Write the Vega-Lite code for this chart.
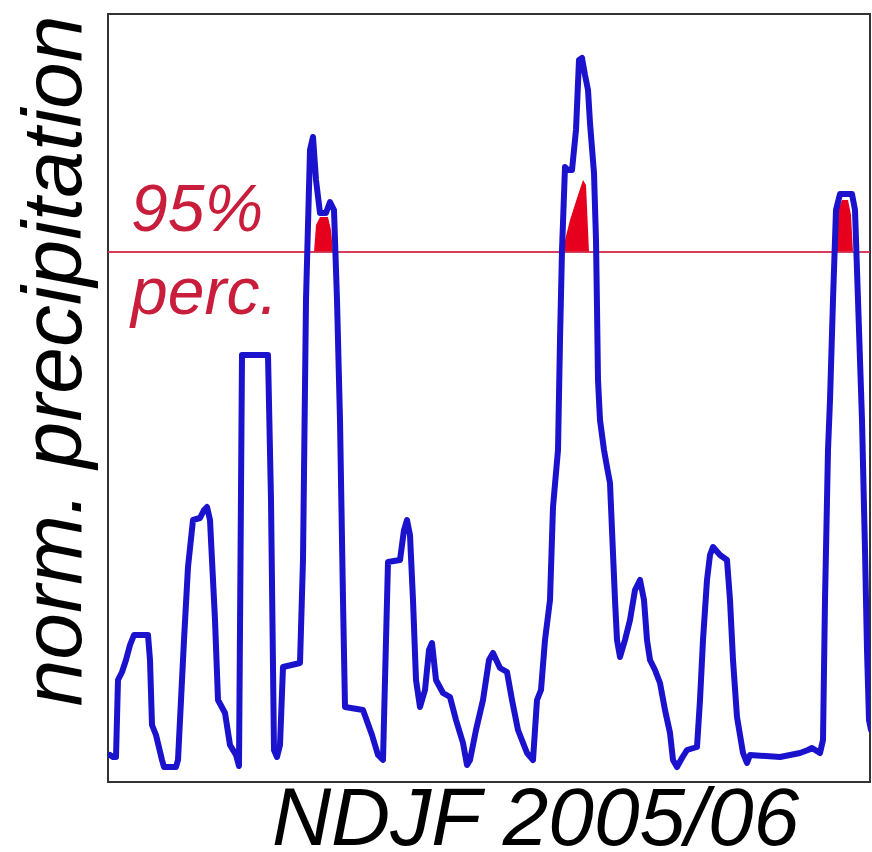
{
  "$schema": "https://vega.github.io/schema/vega-lite/v6.json",
  "width": 762,
  "height": 768,
  "autosize": {"type": "none"},
  "padding": {"left": 108, "top": 14, "right": 2, "bottom": 70},
  "background": "white",
  "config": {
    "view": {"stroke": "#333333", "strokeWidth": 2},
    "axis": {"ticks": false, "labels": false, "grid": false, "domain": false}
  },
  "datasets": {
    "series": [
      {"t": 2, "precip": 27}, {"t": 5, "precip": 25}, {"t": 8, "precip": 25}, {"t": 10, "precip": 102},
      {"t": 14, "precip": 110}, {"t": 18, "precip": 122}, {"t": 22, "precip": 137}, {"t": 26, "precip": 147},
      {"t": 40, "precip": 147}, {"t": 42, "precip": 122}, {"t": 44, "precip": 57}, {"t": 48, "precip": 47},
      {"t": 54, "precip": 22}, {"t": 56, "precip": 15}, {"t": 68, "precip": 15}, {"t": 70, "precip": 22},
      {"t": 76, "precip": 142}, {"t": 80, "precip": 215}, {"t": 85, "precip": 262}, {"t": 92, "precip": 264},
      {"t": 96, "precip": 272}, {"t": 99, "precip": 275}, {"t": 102, "precip": 262}, {"t": 107, "precip": 162},
      {"t": 110, "precip": 82}, {"t": 117, "precip": 69}, {"t": 122, "precip": 37}, {"t": 128, "precip": 27},
      {"t": 131, "precip": 16}, {"t": 134, "precip": 427}, {"t": 160, "precip": 427}, {"t": 163, "precip": 282},
      {"t": 166, "precip": 32}, {"t": 169, "precip": 25}, {"t": 172, "precip": 37}, {"t": 175, "precip": 115},
      {"t": 192, "precip": 119}, {"t": 195, "precip": 222}, {"t": 198, "precip": 482}, {"t": 202, "precip": 632},
      {"t": 205, "precip": 645}, {"t": 208, "precip": 602}, {"t": 212, "precip": 569}, {"t": 218, "precip": 569},
      {"t": 222, "precip": 580}, {"t": 226, "precip": 572}, {"t": 229, "precip": 482}, {"t": 232, "precip": 362},
      {"t": 235, "precip": 182}, {"t": 237, "precip": 75}, {"t": 255, "precip": 72}, {"t": 264, "precip": 47},
      {"t": 270, "precip": 27}, {"t": 275, "precip": 22}, {"t": 278, "precip": 142}, {"t": 280, "precip": 220},
      {"t": 292, "precip": 222}, {"t": 296, "precip": 252}, {"t": 299, "precip": 262}, {"t": 302, "precip": 247},
      {"t": 305, "precip": 182}, {"t": 308, "precip": 102}, {"t": 312, "precip": 75}, {"t": 317, "precip": 92},
      {"t": 321, "precip": 132}, {"t": 324, "precip": 139}, {"t": 328, "precip": 102}, {"t": 335, "precip": 89},
      {"t": 342, "precip": 85}, {"t": 348, "precip": 62}, {"t": 355, "precip": 39}, {"t": 359, "precip": 17},
      {"t": 362, "precip": 22}, {"t": 368, "precip": 52}, {"t": 375, "precip": 82}, {"t": 381, "precip": 122},
      {"t": 385, "precip": 129}, {"t": 392, "precip": 114}, {"t": 399, "precip": 110}, {"t": 404, "precip": 82},
      {"t": 410, "precip": 52}, {"t": 419, "precip": 29}, {"t": 425, "precip": 22}, {"t": 429, "precip": 82},
      {"t": 433, "precip": 92}, {"t": 437, "precip": 142}, {"t": 442, "precip": 182}, {"t": 445, "precip": 275},
      {"t": 450, "precip": 332}, {"t": 452, "precip": 442}, {"t": 454, "precip": 532}, {"t": 457, "precip": 615},
      {"t": 460, "precip": 612}, {"t": 464, "precip": 612}, {"t": 468, "precip": 652}, {"t": 471, "precip": 722},
      {"t": 474, "precip": 724}, {"t": 477, "precip": 707}, {"t": 480, "precip": 692}, {"t": 482, "precip": 659},
      {"t": 486, "precip": 609}, {"t": 488, "precip": 542}, {"t": 489, "precip": 475}, {"t": 490, "precip": 402},
      {"t": 492, "precip": 362}, {"t": 496, "precip": 332}, {"t": 499, "precip": 315}, {"t": 502, "precip": 299},
      {"t": 504, "precip": 252}, {"t": 507, "precip": 182}, {"t": 509, "precip": 142}, {"t": 512, "precip": 125},
      {"t": 517, "precip": 142}, {"t": 522, "precip": 162}, {"t": 527, "precip": 192}, {"t": 532, "precip": 202},
      {"t": 536, "precip": 182}, {"t": 539, "precip": 142}, {"t": 542, "precip": 122}, {"t": 547, "precip": 112},
      {"t": 552, "precip": 99}, {"t": 557, "precip": 72}, {"t": 562, "precip": 49}, {"t": 565, "precip": 22},
      {"t": 569, "precip": 15}, {"t": 574, "precip": 24}, {"t": 579, "precip": 32}, {"t": 589, "precip": 35},
      {"t": 592, "precip": 82}, {"t": 595, "precip": 142}, {"t": 599, "precip": 202}, {"t": 602, "precip": 227},
      {"t": 605, "precip": 235}, {"t": 612, "precip": 227}, {"t": 619, "precip": 222}, {"t": 622, "precip": 182},
      {"t": 625, "precip": 122}, {"t": 629, "precip": 65}, {"t": 635, "precip": 29}, {"t": 639, "precip": 19},
      {"t": 642, "precip": 27}, {"t": 672, "precip": 25}, {"t": 692, "precip": 29}, {"t": 700, "precip": 32},
      {"t": 704, "precip": 34}, {"t": 712, "precip": 29}, {"t": 715, "precip": 42}, {"t": 717, "precip": 182},
      {"t": 720, "precip": 332}, {"t": 722, "precip": 382}, {"t": 725, "precip": 482}, {"t": 728, "precip": 572},
      {"t": 732, "precip": 588}, {"t": 744, "precip": 588}, {"t": 747, "precip": 572}, {"t": 750, "precip": 482},
      {"t": 754, "precip": 362}, {"t": 757, "precip": 232}, {"t": 759, "precip": 132}, {"t": 761, "precip": 62},
      {"t": 763, "precip": 52}
    ],
    "exceed": [
      {"event": 1, "t": 206, "precip": 530}, {"event": 1, "t": 208, "precip": 557}, {"event": 1, "t": 212, "precip": 565},
      {"event": 1, "t": 220, "precip": 565}, {"event": 1, "t": 223, "precip": 552}, {"event": 1, "t": 225, "precip": 530},
      {"event": 2, "t": 454, "precip": 530}, {"event": 2, "t": 462, "precip": 562}, {"event": 2, "t": 470, "precip": 587},
      {"event": 2, "t": 475, "precip": 602}, {"event": 2, "t": 478, "precip": 597}, {"event": 2, "t": 481, "precip": 530},
      {"event": 3, "t": 728, "precip": 530}, {"event": 3, "t": 730, "precip": 572}, {"event": 3, "t": 734, "precip": 582},
      {"event": 3, "t": 740, "precip": 582}, {"event": 3, "t": 743, "precip": 567}, {"event": 3, "t": 745, "precip": 530}
    ],
    "notes": [
      {"label": "95%", "t": 23, "precip": 551},
      {"label": "perc.", "t": 23, "precip": 468}
    ]
  },
  "encoding": {
    "x": {
      "field": "t", "type": "quantitative",
      "scale": {"domain": [0, 762], "nice": false, "zero": false},
      "axis": {
        "title": "NDJF 2005/06",
        "titleFont": "Liberation Sans", "titleFontSize": 82, "titleFontStyle": "italic",
        "titleFontWeight": "normal", "titleColor": "#000000",
        "titleX": 427, "titleY": 62, "titleAlign": "center", "titleBaseline": "alphabetic"
      }
    },
    "y": {
      "field": "precip", "type": "quantitative",
      "scale": {"domain": [0, 768], "nice": false, "zero": false},
      "axis": {
        "title": "norm. precipitation",
        "titleFont": "Liberation Sans", "titleFontSize": 84, "titleFontStyle": "italic",
        "titleFontWeight": "normal", "titleColor": "#000000",
        "titleAngle": -90, "titleX": -28, "titleY": 1, "titleAlign": "right", "titleBaseline": "alphabetic"
      }
    }
  },
  "layer": [
    {
      "data": {"name": "exceed"},
      "mark": {"type": "area", "color": "#e6001e", "clip": true},
      "encoding": {
        "y2": {"datum": 530},
        "detail": {"field": "event", "type": "nominal"}
      }
    },
    {
      "data": {"name": "notes"},
      "mark": {"type": "rule", "color": "#d4304f", "strokeWidth": 1.6},
      "encoding": {
        "x": null,
        "y": {"datum": 530}
      }
    },
    {
      "data": {"name": "series"},
      "mark": {"type": "line", "color": "#1a12cc", "strokeWidth": 6, "strokeJoin": "round", "strokeCap": "round", "clip": true}
    },
    {
      "data": {"name": "notes"},
      "mark": {"type": "text", "font": "Liberation Sans", "fontSize": 66, "fontStyle": "italic", "color": "#c81e3c", "align": "left", "baseline": "alphabetic"},
      "encoding": {
        "text": {"field": "label", "type": "nominal"}
      }
    }
  ]
}
